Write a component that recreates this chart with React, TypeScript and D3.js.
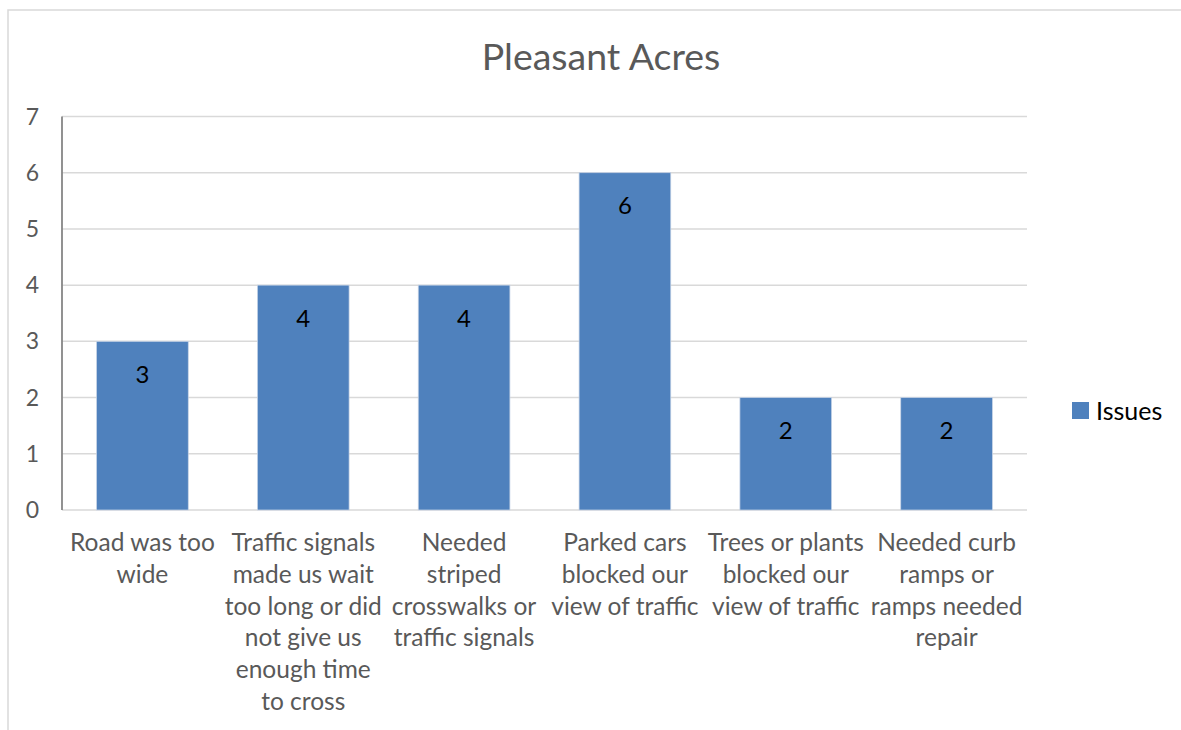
import React from "react";
import * as d3 from "d3";

const title = "Pleasant Acres";
const seriesName = "Issues";
const categories = [
  "Road was too wide",
  "Traffic signals made us wait too long or did not give us enough time to cross",
  "Needed striped crosswalks or traffic signals",
  "Parked cars blocked our view of traffic",
  "Trees or plants blocked our view of traffic",
  "Needed curb ramps or ramps needed repair",
];
const categoryLines = [
  ["Road was too", "wide"],
  ["Traffic signals", "made us wait", "too long or did", "not give us", "enough time", "to cross"],
  ["Needed", "striped", "crosswalks or", "traffic signals"],
  ["Parked cars", "blocked our", "view of traffic"],
  ["Trees or plants", "blocked our", "view of traffic"],
  ["Needed curb", "ramps or", "ramps needed", "repair"],
];
const values = [3, 4, 4, 6, 2, 2];
const yTicks = [0, 1, 2, 3, 4, 5, 6, 7];

const W = 1181;
const H = 730;
const plot = { left: 62, right: 1027, top: 116.5, bottom: 510 };
const FONT = "Lato, 'Open Sans', sans-serif";

export default function App() {
  const x = d3
    .scaleBand<number>()
    .domain(d3.range(categories.length))
    .range([plot.left, plot.right])
    .paddingInner(0.43)
    .paddingOuter(0.215);
  const y = d3.scaleLinear().domain([0, 7]).range([plot.bottom, plot.top]);
  const step = (plot.right - plot.left) / categories.length;

  return (
    <svg
      width={W}
      height={H}
      style={{ position: "absolute", left: 0, top: 0, background: "#fff" }}
      fontFamily={FONT}
    >
      <rect x={8} y={10} width={1200} height={760} fill="#fff" stroke="#d9d9d9" strokeWidth={1.5} />
      <text x={601} y={70} textAnchor="middle" fontSize={37.5} fill="#595959">
        {title}
      </text>
      {yTicks.map((t) => (
        <g key={t}>
          {t > 0 && (
            <line x1={plot.left} x2={plot.right} y1={y(t)} y2={y(t)} stroke="#d9d9d9" strokeWidth={1.5} />
          )}
          <text x={39} y={y(t)} dy="0.35em" textAnchor="end" fontSize={23} fill="#595959">
            {t}
          </text>
        </g>
      ))}
      <line x1={plot.left} x2={plot.right} y1={y(0)} y2={y(0)} stroke="#d9d9d9" strokeWidth={1.5} />
      {values.map((v, i) => (
        <g key={i}>
          <rect
            x={x(i)}
            y={y(v)}
            width={x.bandwidth()}
            height={y(0) - y(v)}
            fill="#4f81bd"
            stroke="#c6d3e6"
            strokeWidth={0.75}
          />
          <text
            x={(x(i) as number) + x.bandwidth() / 2}
            y={y(v) + 33}
            dy="0.35em"
            textAnchor="middle"
            fontSize={24}
            fill="#000"
          >
            {v}
          </text>
        </g>
      ))}
      <line x1={plot.left} x2={plot.left} y1={plot.top} y2={plot.bottom} stroke="#868686" strokeWidth={1.8} />
      {categoryLines.map((lines, i) => (
        <text
          key={i}
          x={plot.left + step * (i + 0.5)}
          y={551}
          textAnchor="middle"
          fontSize={24.5}
          fill="#595959"
        >
          {lines.map((l, j) => (
            <tspan key={j} x={plot.left + step * (i + 0.5)} dy={j === 0 ? 0 : 31.8}>
              {l}
            </tspan>
          ))}
        </text>
      ))}
      <rect x={1072} y={402} width={17} height={17} fill="#4f81bd" />
      <text x={1096} y={411} dy="0.35em" fontSize={25} fill="#000">
        {seriesName}
      </text>
    </svg>
  );
}
